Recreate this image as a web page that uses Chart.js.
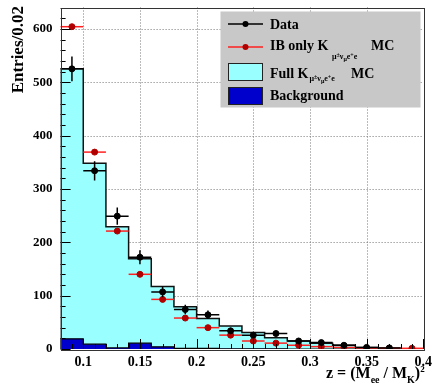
<!DOCTYPE html>
<html>
<head>
<meta charset="utf-8">
<script src="https://cdn.jsdelivr.net/npm/chart.js@4.4.1/dist/chart.umd.min.js"></script>
<style>
  html, body { margin: 0; padding: 0; background: #fff; }
</style>
</head>
<body>
<canvas id="zChart" width="433" height="387"></canvas>
<script>
// bins of z, width 0.02
const binEdges = [0.08, 0.10, 0.12, 0.14, 0.16, 0.18, 0.20, 0.22, 0.24, 0.26, 0.28, 0.30, 0.32, 0.34, 0.36, 0.38, 0.40];
const fullMC     = [525, 348, 229, 169, 117, 79, 57, 43, 31, 21, 15, 11, 7, 3, 1.5, 0.5];
const background = [19, 9, 2, 11, 4, 1, 1, 0.5, 0.5, 0.5, 0, 0, 0, 0, 0, 0];
const ibOnly     = [604, 369, 221, 140, 93, 58, 40, 26, 15, 11, 7, 4.4, 3, 1.8, 1.3, 1.3];
const dataCounts = [525, 334, 249, 172, 107, 74, 64, 34, 26, 29, 15, 12, 7, 3, 2, null];
const dataErrors = [23, 18, 16, 13, 10, 9, 8, 6, 5, 5, 4, 3.5, 2.6, 1.6, 1.2, null];
const xTicks = [0.1, 0.15, 0.2, 0.25, 0.3, 0.35, 0.4];
const yTicks = [0, 100, 200, 300, 400, 500, 600];

const SERIF = "'Liberation Serif', 'Times New Roman', serif";

// outline of a histogram as a closed step path
function histPoints(vals) {
    const pts = [{ x: binEdges[0], y: 0 }];
    vals.forEach((v, i) => {
        pts.push({ x: binEdges[i], y: v });
        pts.push({ x: binEdges[i + 1], y: v });
    });
    pts.push({ x: binEdges[binEdges.length - 1], y: 0 });
    return pts;
}

function centerPoints(vals) {
    return vals.map((v, i) => ({ x: (binEdges[i] + binEdges[i + 1]) / 2, y: v }));
}

// draws text pieces with their own size / vertical offset, returns end x
function drawRich(ctx, x, y, parts) {
    parts.forEach(p => {
        ctx.font = `bold ${p.size}px ${SERIF}`;
        ctx.fillText(p.t, x, y + (p.dy || 0));
        x += ctx.measureText(p.t).width;
    });
    return x;
}

const errorBars = {
    id: 'errorBars',
    beforeDatasetDraw(chart, args) {
        const ds = chart.data.datasets[args.index];
        if (!ds.hBarColor) return;
        const { ctx, scales: { x, y } } = chart;
        ctx.save();
        ctx.strokeStyle = ds.hBarColor;
        ctx.lineWidth = ds.hBarWidth;
        ds.data.forEach((p, i) => {
            if (p.y == null) return;
            const py = y.getPixelForValue(p.y);
            const px = x.getPixelForValue(p.x);
            ctx.beginPath();
            ctx.moveTo(x.getPixelForValue(binEdges[i]), py);
            ctx.lineTo(x.getPixelForValue(binEdges[i + 1]), py);
            if (ds.yErr && ds.yErr[i] != null) {
                ctx.moveTo(px, y.getPixelForValue(p.y + ds.yErr[i]));
                ctx.lineTo(px, y.getPixelForValue(p.y - ds.yErr[i]));
            }
            ctx.stroke();
        });
        ctx.restore();
    }
};

const frameAndGrid = {
    id: 'frameAndGrid',
    beforeDatasetsDraw(chart) {
        const { ctx, chartArea: a, scales: { x, y } } = chart;
        ctx.save();
        ctx.strokeStyle = '#777';
        ctx.lineWidth = 1;
        ctx.setLineDash([1, 2]);
        xTicks.forEach(v => {
            const px = Math.round(x.getPixelForValue(v)) + 0.5;
            if (px > a.right - 2) return;
            ctx.beginPath(); ctx.moveTo(px, a.top); ctx.lineTo(px, a.bottom); ctx.stroke();
        });
        yTicks.forEach(v => {
            if (v === 0) return;
            const py = Math.round(y.getPixelForValue(v)) + 0.5;
            ctx.beginPath(); ctx.moveTo(a.left, py); ctx.lineTo(a.right, py); ctx.stroke();
        });
        ctx.restore();
    },
    afterDatasetsDraw(chart) {
        const { ctx, chartArea: a, scales: { x, y } } = chart;
        ctx.save();
        ctx.strokeStyle = '#000';
        ctx.lineWidth = 1;
        ctx.beginPath();
        // y ticks every 20, longer every 100
        for (let v = 0; v <= 640; v += 20) {
            const py = Math.round(y.getPixelForValue(v)) + 0.5;
            const len = v % 100 === 0 ? 10 : 5;
            ctx.moveTo(a.left, py); ctx.lineTo(a.left + len, py);
        }
        // x ticks every 0.01, longer every 0.05
        for (let k = 8; k <= 40; k++) {
            const px = Math.round(x.getPixelForValue(k / 100)) + 0.5;
            const len = k % 5 === 0 ? 10 : 5;
            ctx.moveTo(px, a.bottom); ctx.lineTo(px, a.bottom - len);
        }
        ctx.stroke();
        ctx.strokeStyle = '#333';
        ctx.strokeRect(Math.round(a.left) + 0.5, Math.round(a.top) + 0.5,
                       Math.round(a.right - a.left), Math.round(a.bottom - a.top));
        ctx.restore();
    },
    afterDraw(chart) {
        const { ctx } = chart;
        ctx.save();
        ctx.fillStyle = '#000';
        ctx.textBaseline = 'alphabetic';

        // y title
        ctx.save();
        ctx.translate(23, 6);
        ctx.rotate(-Math.PI / 2);
        ctx.textAlign = 'right';
        ctx.font = `bold 17px ${SERIF}`;
        ctx.fillText('Entries/0.02', 0, 0);
        ctx.restore();

        // x title
        ctx.textAlign = 'left';
        drawRich(ctx, 326, 378, [
            { t: 'z = (M', size: 16 },
            { t: 'ee', size: 10, dy: 5 },
            { t: ' / M', size: 16 },
            { t: 'K', size: 10, dy: 5 },
            { t: ')', size: 16 },
            { t: '2', size: 9, dy: -6 }
        ]);

        // legend
        ctx.fillStyle = '#c8c8c8';
        ctx.fillRect(220.5, 11.5, 200, 96);
        ctx.lineWidth = 1.5;

        ctx.strokeStyle = '#000';
        ctx.beginPath(); ctx.moveTo(228, 24); ctx.lineTo(263, 24); ctx.stroke();
        ctx.fillStyle = '#000';
        ctx.beginPath(); ctx.arc(245.5, 24, 3, 0, Math.PI * 2); ctx.fill();

        ctx.strokeStyle = '#ff2020';
        ctx.beginPath(); ctx.moveTo(228, 47); ctx.lineTo(263, 47); ctx.stroke();
        ctx.fillStyle = '#b00000';
        ctx.beginPath(); ctx.arc(245.5, 47, 3, 0, Math.PI * 2); ctx.fill();

        ctx.lineWidth = 1;
        ctx.strokeStyle = '#222';
        ctx.fillStyle = '#99ffff';
        ctx.fillRect(228.5, 63.5, 34, 17); ctx.strokeRect(228.5, 63.5, 34, 17);
        ctx.fillStyle = '#0000cc';
        ctx.fillRect(228.5, 87.5, 34, 17); ctx.strokeRect(228.5, 87.5, 34, 17);

        ctx.fillStyle = '#000';
        drawRich(ctx, 270, 29, [{ t: 'Data', size: 14 }]);
        drawRich(ctx, 270, 50, [{ t: 'IB only K', size: 14 }]);
        drawRich(ctx, 332, 58.5, [
            { t: 'μ', size: 8 }, { t: '±', size: 6, dy: -2 }, { t: 'ν', size: 8 },
            { t: 'μ', size: 6, dy: 2 }, { t: 'e', size: 8 }, { t: '+', size: 6, dy: -2 }, { t: 'e', size: 8 }
        ]);
        drawRich(ctx, 371, 50, [{ t: 'MC', size: 14 }]);
        const kEnd = drawRich(ctx, 270, 77.5, [{ t: 'Full K', size: 14 }]);
        drawRich(ctx, kEnd + 1, 80.5, [
            { t: 'μ', size: 8 }, { t: '±', size: 6, dy: -2 }, { t: 'ν', size: 8 },
            { t: 'μ', size: 6, dy: 2 }, { t: 'e', size: 8 }, { t: '+', size: 6, dy: -2 }, { t: 'e', size: 8 }
        ]);
        drawRich(ctx, 351, 77.5, [{ t: 'MC', size: 14 }]);
        drawRich(ctx, 270, 99.5, [{ t: 'Background', size: 14 }]);
        ctx.restore();
    }
};

new Chart(document.getElementById('zChart'), {
    type: 'line',
    data: {
        datasets: [
            {
                label: 'Data',
                data: centerPoints(dataCounts),
                showLine: false,
                pointRadius: 3,
                pointBackgroundColor: '#000',
                pointBorderColor: '#000',
                hBarColor: '#000',
                hBarWidth: 1.5,
                yErr: dataErrors
            },
            {
                label: 'IB only MC',
                data: centerPoints(ibOnly),
                showLine: false,
                pointRadius: 3,
                pointBackgroundColor: '#b00000',
                pointBorderColor: '#b00000',
                hBarColor: '#ff2020',
                hBarWidth: 1.5
            },
            {
                label: 'Background',
                data: histPoints(background),
                borderColor: '#000',
                borderWidth: 1.2,
                backgroundColor: '#0000cc',
                fill: 'origin',
                pointRadius: 0,
                tension: 0
            },
            {
                label: 'Full MC',
                data: histPoints(fullMC),
                borderColor: '#111',
                borderWidth: 1.5,
                backgroundColor: '#99ffff',
                fill: 'origin',
                pointRadius: 0,
                tension: 0
            }
        ]
    },
    options: {
        responsive: false,
        animation: false,
        layout: { autoPadding: false, padding: { left: 0, top: 7.5, right: 9.7, bottom: 0 } },
        plugins: { legend: { display: false }, tooltip: { enabled: false } },
        scales: {
            x: {
                type: 'linear',
                min: 0.08,
                max: 0.4,
                afterBuildTicks: s => { s.ticks = xTicks.map(v => ({ value: v })); },
                afterFit: s => { s.height = 38; s.paddingLeft = 0; s.paddingRight = 0; },
                grid: { display: false, drawTicks: false },
                border: { display: false },
                ticks: {
                    color: '#000',
                    padding: 5,
                    maxRotation: 0,
                    autoSkip: false,
                    font: { family: SERIF, size: 14, weight: 'bold' },
                    callback: v => String(v)
                }
            },
            y: {
                type: 'linear',
                min: 0,
                max: 640,
                afterBuildTicks: s => { s.ticks = yTicks.map(v => ({ value: v })); },
                afterFit: s => { s.width = 60.6; s.paddingTop = 0; s.paddingBottom = 0; },
                grid: { display: false, drawTicks: false },
                border: { display: false },
                ticks: {
                    color: '#000',
                    padding: 8,
                    font: { family: SERIF, size: 13, weight: 'bold' },
                    callback: v => String(v)
                }
            }
        }
    },
    plugins: [errorBars, frameAndGrid]
});
</script>
</body>
</html>
